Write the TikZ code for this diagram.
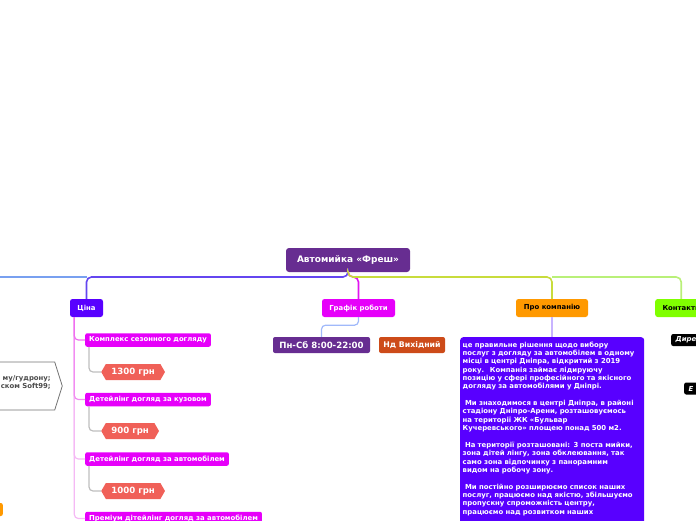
\documentclass[tikz,border=0pt]{standalone}
\usepackage{fontspec}
\setmainfont{DejaVu Sans}
\usepackage{xcolor}
\usepackage{tikz}
\usetikzlibrary{positioning,calc,shapes.symbols}

\definecolor{rootc}{RGB}{103,45,145}
\definecolor{cinac}{RGB}{88,0,255}
\definecolor{grafc}{RGB}{230,0,250}
\definecolor{proc}{RGB}{255,153,0}
\definecolor{kontc}{RGB}{128,255,0}
\definecolor{pricec}{RGB}{240,96,88}
\definecolor{ndc}{RGB}{205,75,25}
\definecolor{cinaln}{RGB}{100,70,240}
\definecolor{leftln}{RGB}{120,160,240}
\definecolor{grafln}{RGB}{225,20,240}
\definecolor{proln}{RGB}{200,220,60}
\definecolor{kontln}{RGB}{185,240,120}
\definecolor{pinkln}{RGB}{240,110,240}
\definecolor{pinklt}{RGB}{245,185,245}
\definecolor{greyln}{RGB}{190,190,190}
\definecolor{blueln}{RGB}{160,185,250}
\definecolor{lavln}{RGB}{200,180,255}

\begin{document}
\begin{tikzpicture}[x=1pt, y=-1pt,
  root/.style={fill=rootc, text=white, rounded corners=3pt,
    font=\bfseries\fontsize{9}{10}\selectfont,
    minimum width=124pt, minimum height=24pt, inner sep=0pt},
  topic/.style={rounded corners=2.5pt, minimum height=18pt, inner sep=0pt,
    font=\bfseries\fontsize{6.9}{8}\selectfont},
  sub/.style={fill=grafc, text=white, rounded corners=2pt, anchor=west,
    minimum height=13.5pt, inner xsep=4pt, inner ysep=0pt,
    font=\bfseries\fontsize{6.9}{8}\selectfont},
  price/.style={signal, signal to=west and east, signal pointer angle=120,
    fill=pricec, text=white, anchor=west, minimum height=16pt,
    inner xsep=5.5pt, inner ysep=0pt, font=\bfseries\fontsize{8.6}{9}\selectfont},
  tag/.style={text=white, rounded corners=2pt, minimum height=16pt,
    inner sep=0pt, font=\bfseries\fontsize{8.6}{10}\selectfont},
  blk/.style={fill=black, text=white, rounded corners=2pt, anchor=west,
    minimum height=12pt, inner xsep=4.5pt, inner ysep=0pt, text width=40pt,
    align=left, font=\bfseries\itshape\fontsize{6.9}{8}\selectfont},
  br/.style={line width=1.6pt, rounded corners=5pt},
  sb/.style={line width=1.2pt, rounded corners=4pt}
]
\useasboundingbox (0,0) rectangle (696,520);
\clip (0,0) rectangle (696,520);

% Root
\node[root] (root) at (348,260) {Автомийка «Фреш»};
\coordinate (hub) at (348,277);
\coordinate (offL) at (-10,277);

% Level 1
\node[topic, fill=cinac, text=white, minimum width=33pt] (cina) at (86.5,308) {Ціна};
\node[topic, fill=grafc, text=white, minimum width=73pt] (graf) at (358.5,308) {Графік роботи};
\node[topic, fill=proc, minimum width=72pt] (pro) at (552,308) {Про компанію};
\node[topic, fill=kontc, minimum width=52pt, anchor=west] (kont) at (655,308) {Контакти};

% Branches from root
\draw[br, leftln] (cina.north |- hub) -- (offL);
\draw[br, cinaln] (root.south) -- (hub) -| (cina.north);
\draw[br, grafln] (root.south) -- (hub) -| (graf.north);
\draw[br, kontln] (pro.north |- hub) -| (kont.north);
\draw[br, proln] (root.south) -- (hub) -| (pro.north);

% Prices
\node[sub] (k1) at (85,340) {Комплекс сезонного догляду};
\node[price] (p1) at (101,372) {1300 грн};
\node[sub] (k2) at (85,399.5) {Детейлінг догляд за кузовом};
\node[price] (p2) at (101,431) {900 грн};
\node[sub] (k3) at (85,459) {Детейлінг догляд за автомобілем};
\node[price] (p3) at (101,491) {1000 грн};
\node[sub] (k4) at (85,518.5) {Преміум дітейлінг догляд за автомобілем};

\coordinate (cinaL) at ([xshift=4.5pt]cina.south west);
\draw[sb, pinklt] (cinaL) |- (k4.west);
\draw[sb, pinklt] (cinaL) |- (k3.west);
\draw[sb, pinkln!60!pinklt] (cinaL) |- (k2.west);
\draw[sb, pinkln] (cinaL) |- (k1.west);
\foreach \k/\p in {k1/p1, k2/p2, k3/p3}
  \draw[sb, greyln] ([xshift=4pt]\k.south west) |- (\p.west);

% Schedule
\node[tag, fill=rootc, minimum width=97pt] (pnsb) at (321.5,345) {Пн-Сб 8:00-22:00};
\node[tag, fill=ndc, minimum width=66pt, font=\bfseries\fontsize{7.8}{9}\selectfont]
  (nd) at (412,345) {Нд Вихідний};
\draw[sb, blueln] (graf.south) -- ++(0,8) -| (pnsb.north);

% About
\node[fill=cinac, text=white, rounded corners=3pt, anchor=north west,
  inner xsep=2.5pt, inner ysep=4.5pt, text width=179pt, align=left,
  font=\bfseries\fontsize{6.9}{8.35}\selectfont] (about) at (460,337)
  {це правильне рішення щодо вибору\\
   послуг з догляду за автомобілем в одному\\
   місці в центрі Дніпра, відкритий з 2019\\
   року.~ Компанія займає лідируючу\\
   позицію у сфері професійного та якісного\\
   догляду за автомобілями у Дніпрі.\\[8.35pt]
   \ Ми знаходимося в центрі Дніпра, в районі\\
   стадіону Дніпро-Арени, розташовуємось\\
   на території ЖК «Бульвар\\
   Кучеревського» площею понад 500 м2.\\[8.35pt]
   \ На території розташовані: 3 поста мийки,\\
   зона дітей лінгу, зона обклеювання, так\\
   само зона відпочинку з панорамним\\
   видом на робочу зону.\\[8.35pt]
   \ Ми постійно розширюємо список наших\\
   послуг, працюємо над якістю, збільшуємо\\
   пропускну спроможність центру,\\
   працюємо над розвитком наших\\
   \mbox{}\\ \mbox{}};
\draw[sb, lavln] (pro.south) -- (about.north -| pro.south);

% Contacts
\node[blk] (dir) at (671,340) {Дире};
\node[blk] (eml) at (684,388.5) {Е};

% Left side
\node[signal, signal to=east, signal pointer angle=145, draw=black!55,
  fill=white, line width=0.8pt, anchor=east, minimum height=48pt,
  inner xsep=4pt, text width=140pt, align=right, text=black!70,
  font=\bfseries\fontsize{6.9}{8}\selectfont] (note) at (62.7,386)
  {му/гудрону;\\ском Soft99;\\\mbox{}};
\node[fill=proc, rounded corners=2pt, anchor=east, minimum width=30pt,
  minimum height=13pt, inner sep=0pt] (side) at (3,509.5) {};
\end{tikzpicture}
\end{document}
